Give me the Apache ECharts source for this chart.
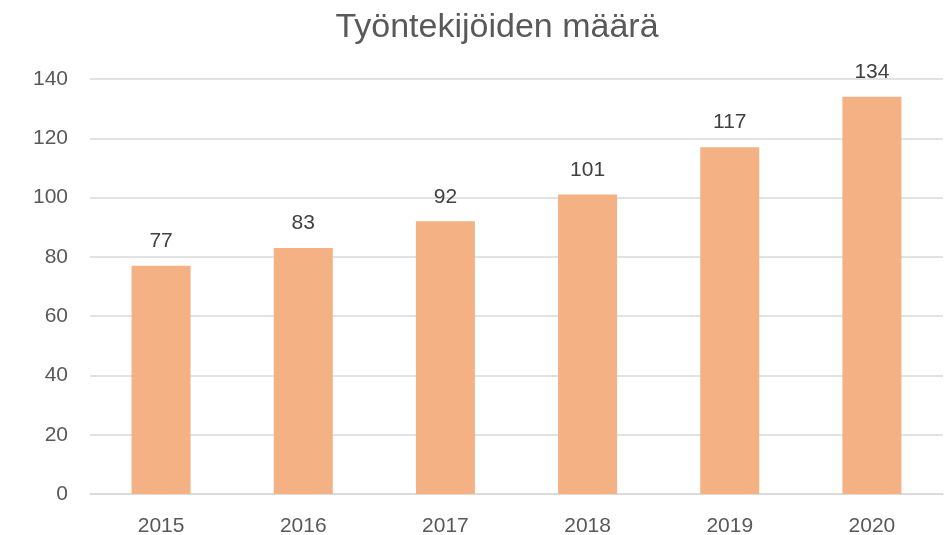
<!DOCTYPE html>
<html>
<head>
<meta charset="utf-8">
<script src="https://cdn.jsdelivr.net/npm/echarts@6/dist/echarts.min.js"></script>
<style>html,body{margin:0;padding:0;background:#fff}#c{width:948px;height:535px}</style>
</head>
<body>
<div id="c"></div>
<script>
const title = 'Työntekijöiden määrä';
const categories = ['2015', '2016', '2017', '2018', '2019', '2020'];
const values = [77, 83, 92, 101, 117, 134];
const yMin = 0, yMax = 140, yStep = 20;

const chart = echarts.init(document.getElementById('c'), null, {renderer: 'canvas'});
const font = '"Liberation Sans", Arial, sans-serif';
chart.setOption({
  animation: false,
  backgroundColor: '#ffffff',
  title: {
    text: title,
    left: 492, top: 6, textAlign: 'center',
    textStyle: {fontFamily: font, fontSize: 34, fontWeight: 'normal', color: '#595959'}
  },
  grid: {left: 90, right: 5, top: 79, bottom: 41, outerBoundsMode: 'none'},
  xAxis: {
    type: 'category',
    data: categories,
    axisLine: {lineStyle: {color: '#d9d9d9', width: 1.5}},
    axisTick: {show: false},
    axisLabel: {color: '#595959', fontFamily: font, fontSize: 21, margin: 22}
  },
  yAxis: {
    type: 'value',
    min: yMin, max: yMax, interval: yStep,
    axisLine: {show: false},
    axisTick: {show: false},
    splitLine: {lineStyle: {color: '#d9d9d9', width: 1.5}},
    axisLabel: {color: '#595959', fontFamily: font, fontSize: 21, margin: 22}
  },
  series: [{
    type: 'bar',
    data: values,
    barWidth: 59,
    itemStyle: {color: '#F4B183'},
    label: {show: true, position: 'top', distance: 14, color: '#404040', fontFamily: font, fontSize: 21}
  }]
});
</script>
</body>
</html>
